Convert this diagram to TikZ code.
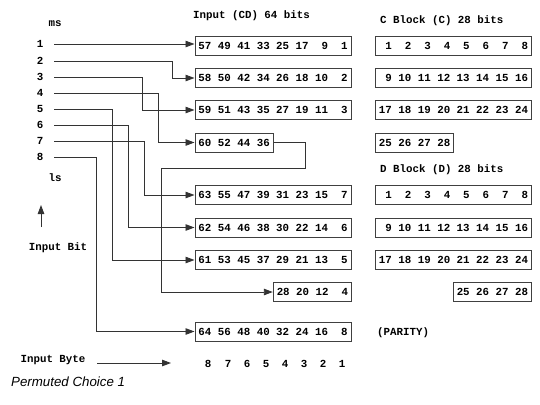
\documentclass[tikz,border=0pt]{standalone}
\usepackage{fontspec}
\setmainfont{Liberation Sans}
\setmonofont{Liberation Mono}
\usetikzlibrary{arrows.meta}
\begin{document}
\begin{tikzpicture}[x=1bp,y=-1bp,
  every node/.style={font=\fontsize{10.8bp}{13bp}\selectfont\ttfamily\bfseries, inner sep=0pt},
  bitbox/.style={draw=black!75, line width=0.9bp, inner xsep=3.5bp, inner ysep=0pt,
    minimum height=19bp, text height=7.5bp, text depth=0pt},
  wire/.style={draw=black!80, line width=0.9bp},
  arr/.style={wire, -{Triangle[length=9bp,width=6.5bp]}}]
\useasboundingbox (0,0) rectangle (540,404);

% titles
\node[anchor=west] (tin) at (193,16) {Input (CD) 64 bits};
\node[anchor=west] (tc) at (380,21) {C Block (C) 28 bits};
\node[anchor=west] (td) at (380,170) {D Block (D) 28 bits};
\node[anchor=west] (par) at (377,333) {(PARITY)};

% left labels
\node (ms) at (55,24) {ms};
\node (ls) at (55,178) {ls};
\node (ibit) at (58,248) {Input Bit};
\node (ibyte) at (53,360) {Input Byte};
\node (n1) at (40,44) {1};
\node (n2) at (40,61) {2};
\node (n3) at (40,77) {3};
\node (n4) at (40,93) {4};
\node (n5) at (40,109) {5};
\node (n6) at (40,125) {6};
\node (n7) at (40,141) {7};
\node (n8) at (40,157) {8};

\coordinate (s1) at (54,44);
\coordinate (s2) at (54,61);
\coordinate (s3) at (54,77);
\coordinate (s4) at (54,93);
\coordinate (s5) at (54,109);
\coordinate (s6) at (54,125);
\coordinate (s7) at (54,141);
\coordinate (s8) at (54,157);

% input boxes
\node[bitbox, anchor=west] (b1) at (194.5,46) {57 49 41 33 25 17~~9~~1};
\node[bitbox, anchor=west] (b2) at (194.5,78) {58 50 42 34 26 18 10~~2};
\node[bitbox, anchor=west] (b3) at (194.5,110) {59 51 43 35 27 19 11~~3};
\node[bitbox, anchor=west] (b4) at (194.5,142.5) {60 52 44 36};
\node[bitbox, anchor=west] (b5) at (194.5,195) {63 55 47 39 31 23 15~~7};
\node[bitbox, anchor=west] (b6) at (194.5,227.5) {62 54 46 38 30 22 14~~6};
\node[bitbox, anchor=west] (b7) at (194.5,260) {61 53 45 37 29 21 13~~5};
\node[bitbox, anchor=east] (b8) at (352,292) {28 20 12~~4};
\node[bitbox, anchor=west] (b9) at (194.5,331.5) {64 56 48 40 32 24 16~~8};

% C block
\node[bitbox, anchor=west] (c1) at (375,46) {~1~~2~~3~~4~~5~~6~~7~~8};
\node[bitbox, anchor=west] (c2) at (375,78) {~9 10 11 12 13 14 15 16};
\node[bitbox, anchor=west] (c3) at (375,110) {17 18 19 20 21 22 23 24};
\node[bitbox, anchor=west] (c4) at (375,142.5) {25 26 27 28};

% D block
\node[bitbox, anchor=west] (d1) at (375,195) {~1~~2~~3~~4~~5~~6~~7~~8};
\node[bitbox, anchor=west] (d2) at (375,227.5) {~9 10 11 12 13 14 15 16};
\node[bitbox, anchor=west] (d3) at (375,260) {17 18 19 20 21 22 23 24};
\node[bitbox, anchor=east] (d4) at (532,292) {25 26 27 28};

% bend columns
\coordinate (k2) at (172,0);
\coordinate (k3) at (142.5,0);
\coordinate (k4) at (158,0);
\coordinate (k5) at (112.5,0);
\coordinate (k6) at (128.5,0);
\coordinate (k7) at (144.5,0);
\coordinate (k8) at (96.5,0);
\coordinate (q1) at (305,168);
\coordinate (q2) at (161,168);

\draw[arr] (s1) -- (s1 -| b1.west);
\draw[arr] (s2) -| (k2 |- b2.west) -- (b2.west);
\draw[arr] (s3) -| (k3 |- b3.west) -- (b3.west);
\draw[arr] (s4) -| (k4 |- b4.west) -- (b4.west);
\draw[arr] (s7) -| (k7 |- b5.west) -- (b5.west);
\draw[arr] (s6) -| (k6 |- b6.west) -- (b6.west);
\draw[arr] (s5) -| (k5 |- b7.west) -- (b7.west);
\draw[arr] (s8) -| (k8 |- b9.west) -- (b9.west);
\draw[arr] (b4.east) -| (q1) -- (q2) |- (b8.west);

% input bit arrow
\coordinate (ua) at (41,227);
\coordinate (ub) at (41,205);
\draw[arr] (ua) -- (ub);

% input byte arrow
\coordinate (ba) at (97,363);
\coordinate (bb) at (171,363);
\draw[arr] (ba) -- (bb);

\node (y8) at (208,364) {8};
\node (y7) at (228,364) {7};
\node (y6) at (247,364) {6};
\node (y5) at (266,364) {5};
\node (y4) at (285,364) {4};
\node (y3) at (304,364) {3};
\node (y2) at (323,364) {2};
\node (y1) at (342,364) {1};

\node[anchor=west, font=\fontsize{13.3bp}{16bp}\selectfont\rmfamily\itshape] (cap) at (11,382) {Permuted Choice 1};
\end{tikzpicture}
\end{document}
